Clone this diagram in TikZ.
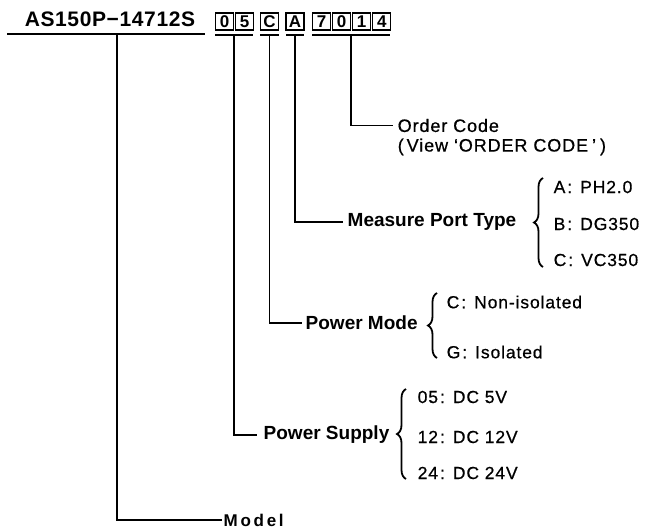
\documentclass[tikz,border=0pt]{standalone}
\usepackage{fontspec}
\setmainfont{Liberation Sans}
\newfontfamily\tracked[LetterSpace=5,FakeBold=0.6]{Liberation Sans}
\newfontfamily\titlefont[LetterSpace=3]{Liberation Sans}
\newfontfamily\widefont[LetterSpace=16]{Liberation Sans}
\newcommand{\pick}[2]{#1\hspace{2pt}:\hspace{8pt}#2}
\usetikzlibrary{positioning,decorations.pathreplacing}
\begin{document}
\begin{tikzpicture}[x=1pt,y=-1pt,line width=1.4pt,
  digit/.style={draw,line width=1.1pt,minimum width=18pt,minimum height=17pt,inner sep=0pt,
    font=\fontsize{17}{17}\selectfont\bfseries},
  lbl/.style={anchor=west,inner ysep=0pt,font=\fontsize{19}{19}\selectfont\bfseries},
  opt/.style={anchor=west,inner sep=0pt,font=\fontsize{17.5}{17.5}\selectfont\tracked},
  curly/.style={decorate,decoration={brace,amplitude=9pt},line width=1.8pt}]
  \useasboundingbox (0,0) rectangle (663,531);
  \node (AS) [inner sep=0pt,font=\fontsize{21}{21}\selectfont\titlefont\bfseries] at (110,19.5) {AS150P−14712S};
  \node (D0) [digit] at (224.5,21.5) {0};
  \node (D5) [digit,right=1pt of D0] {5};
  \node (C) [digit] at (269.5,21.5) {C};
  \node (A) [digit] at (295,21.5) {A};
  \node (S7) [digit] at (321.5,21.5) {7};
  \node (S0) [digit,right=1pt of S7] {0};
  \node (S1) [digit,right=1pt of S0] {1};
  \node (S4) [digit,right=1pt of S1] {4};
  \draw (7,34) -- (205,34);
  \draw (215,35) -- (253,35);
  \draw (260,35) -- (279,35);
  \draw (286,35) -- (304,35);
  \draw (312,35) -- (390,35);
  \coordinate (m0) at (117,34);
  \node (Mo) [lbl,inner xsep=1pt,font=\fontsize{17}{17}\selectfont\widefont\bfseries] at (222,520) {Model};
  \node (PS) [lbl,inner xsep=6pt] at (257,435) {Power Supply};
  \node (PM) [lbl,inner xsep=3pt] at (302,323) {Power Mode};
  \node (MPT) [lbl,inner xsep=4pt] at (343,222) {Measure Port Type};
  \node (OC) [opt,inner xsep=4pt,font=\fontsize{18}{18}\selectfont\tracked] at (393,125.5) {Order Code};
  \node (OV) [opt,inner xsep=4pt,font=\fontsize{18}{18}\selectfont\tracked,below=5pt of OC.south west,anchor=north west]
    {(\hspace{3pt}View ‘ORDER CODE\hspace{4pt}’\hspace{4pt})};
  \draw (m0) |- (Mo.west);
  \draw ([yshift=-5pt]D0.south east) |- (PS.west);
  \draw ([yshift=-5pt]C.south) |- (PM.west);
  \draw ([yshift=-5pt]A.south) |- (MPT.west);
  \draw ([yshift=-5pt]S0.south east) |- (OC.west);
  \draw[curly] (543,267) -- (543,178);
  \node (Ta) [opt] at (553,187) {\pick{A}{PH2.0}};
  \node (Tb) [opt] at (553,224) {\pick{B}{DG350}};
  \node (Tc) [opt] at (553,260) {\pick{C}{VC350}};
  \draw[curly] (437,358) -- (437,293);
  \node (Mc) [opt] at (446,302) {\pick{C}{Non-isolated}};
  \node (Mg) [opt] at (446,352) {\pick{G}{Isolated}};
  \draw[curly] (406,479) -- (406,389);
  \node (V05) [opt] at (417,397) {\pick{05}{DC 5V}};
  \node (V12) [opt] at (417,437) {\pick{12}{DC 12V}};
  \node (V24) [opt] at (417,473) {\pick{24}{DC 24V}};
\end{tikzpicture}
\end{document}
